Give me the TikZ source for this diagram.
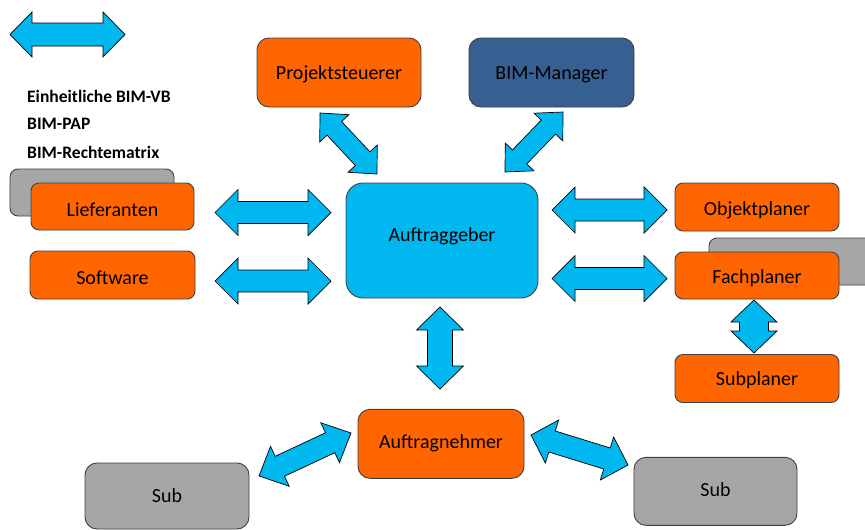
\documentclass[tikz,border=0pt]{standalone}
\usepackage{fontspec}
\setmainfont{Carlito}
\usetikzlibrary{calc}
\definecolor{orng}{RGB}{255,102,0}
\definecolor{cyanb}{RGB}{0,183,240}
\definecolor{bimblue}{RGB}{55,96,146}
\definecolor{grayb}{RGB}{166,166,166}
% block double arrow: from, to, shaft half width, head half width, head length
\newcommand{\blkarrow}[5]{%
  \draw[blkarr] (#1)
    -- ($(#1)!#5!(#2)!#4!90:(#2)$)
    -- ($(#1)!#5!(#2)!#3!90:(#2)$)
    -- ($(#2)!#5!(#1)!#3!-90:(#1)$)
    -- ($(#2)!#5!(#1)!#4!-90:(#1)$)
    -- (#2)
    -- ($(#2)!#5!(#1)!#4!90:(#1)$)
    -- ($(#2)!#5!(#1)!#3!90:(#1)$)
    -- ($(#1)!#5!(#2)!#3!-90:(#2)$)
    -- ($(#1)!#5!(#2)!#4!-90:(#2)$)
    -- cycle;}
\begin{document}
\begin{tikzpicture}[x=1pt,y=-1pt,
  blkarr/.style={fill=cyanb, draw=black, line width=0.7pt, line join=miter},
  box/.style={draw=black!75, line width=0.9pt, rounded corners=8pt,
    font=\fontsize{20}{24}\selectfont, text=black, inner sep=0pt, text depth=0pt},
  base/.style={text height=#1},
  obox/.style={box, fill=orng},
  gbox/.style={box, fill=grayb},
  legendtxt/.style={anchor=west, font=\fontsize{17.5}{20}\selectfont\bfseries, inner sep=0pt}]
\clip (0,0) rectangle (865,530);
\fill[white] (0,0) rectangle (865,530);

% legend
\coordinate (lg1) at (10,34.5);
\coordinate (lg2) at (125,34.5);
\blkarrow{lg1}{lg2}{11.5pt}{22.5pt}{22pt}
\node[legendtxt] (t1) at (27,96) {Einheitliche BIM-VB};
\node[legendtxt] (t2) at (27,124) {BIM-PAP};
\node[legendtxt] (t3) at (27,152) {BIM-Rechtematrix};

% boxes
\node[gbox, minimum width=164pt, minimum height=47pt] (liefbg) at (92,192.5) {};
\node[obox, base=19pt, minimum width=163pt, minimum height=47pt] (lief) at (112.5,206.5) {Lieferanten};
\node[obox, base=19pt, minimum width=165pt, minimum height=48pt] (soft) at (112.5,275) {Software};
\node[obox, base=13.6pt, rounded corners=12pt, minimum width=164pt, minimum height=69pt] (proj) at (339,72.5) {Projektsteuerer};
\node[box, base=13.6pt, fill=bimblue, rounded corners=12pt, minimum width=165pt, minimum height=69pt] (bim) at (551.5,72.5) {BIM-Manager};
\node[box, base=2pt, fill=cyanb, rounded corners=17pt, minimum width=192pt, minimum height=115pt] (ag) at (442,240.5) {Auftraggeber};
\node[obox, base=17pt, minimum width=164pt, minimum height=48pt] (obj) at (757,207) {Objektplaner};
\node[gbox, minimum width=164pt, minimum height=47pt] (fachbg) at (791,261.5) {};
\node[obox, base=16pt, minimum width=164pt, minimum height=47pt] (fach) at (757,275.5) {Fachplaner};
\node[obox, base=14.6pt, minimum width=164pt, minimum height=48pt] (subpl) at (757,378.5) {Subplaner};
\node[obox, base=9pt, rounded corners=12pt, minimum width=166pt, minimum height=69pt] (an) at (441,443.8) {Auftragnehmer};
\node[gbox, base=13pt, rounded corners=12pt, minimum width=164pt, minimum height=66pt] (subl) at (167,496) {Sub};
\node[gbox, base=10.8pt, rounded corners=12pt, minimum width=163pt, minimum height=68pt] (subr) at (715.5,491.3) {Sub};

% arrow end points
\coordinate (la1) at (215,212.5);  \coordinate (la2) at (331,212.5);
\coordinate (sa1) at (215,281);    \coordinate (sa2) at (331,281);
\coordinate (oa1) at (552,210);    \coordinate (oa2) at (667,210);
\coordinate (fa1) at (552,278.5);  \coordinate (fa2) at (667,278.5);
\coordinate (va1) at (440,307);    \coordinate (va2) at (440,389);
\coordinate (fs1) at (754,300);    \coordinate (fs2) at (754,353);
\coordinate (pa1) at (320,113);    \coordinate (pa2) at (377,174);
\coordinate (ba1) at (563,112);    \coordinate (ba2) at (505,172);
\coordinate (bl1) at (259,476);    \coordinate (bl2) at (351,433);
\coordinate (br1) at (531,435);    \coordinate (br2) at (628,465);

\blkarrow{la1}{la2}{11pt}{23pt}{23pt}
\blkarrow{sa1}{sa2}{11pt}{23pt}{23pt}
\blkarrow{oa1}{oa2}{11pt}{23pt}{23pt}
\blkarrow{fa1}{fa2}{11pt}{23pt}{23pt}
\blkarrow{va1}{va2}{12.5pt}{23.5pt}{23pt}
\blkarrow{fs1}{fs2}{14.5pt}{23pt}{22pt}
\blkarrow{pa1}{pa2}{10pt}{20pt}{21pt}
\blkarrow{ba1}{ba2}{10pt}{20pt}{21pt}
\blkarrow{bl1}{bl2}{11pt}{22pt}{23pt}
\blkarrow{br1}{br2}{11pt}{22.5pt}{22pt}
\end{tikzpicture}
\end{document}
